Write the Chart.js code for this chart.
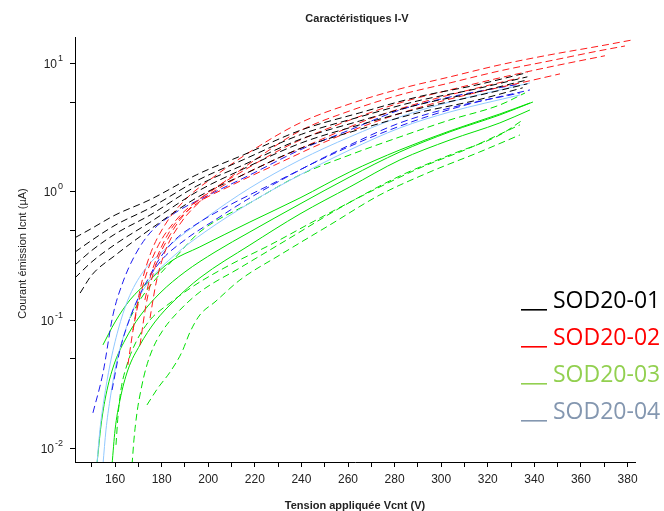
<!DOCTYPE html>
<html><head><meta charset="utf-8">
<script src="https://cdn.jsdelivr.net/npm/chart.js@4/dist/chart.umd.min.js"></script>
<style>html,body{margin:0;padding:0;background:#fff}#wrap{width:664px;height:511px;position:relative}</style>
</head><body><div id="wrap"><canvas id="c" width="664" height="511"></canvas></div>
<script>
// ---------- texts ----------
const chartTitle = 'Caractéristiques I-V';
const xAxisTitle = 'Tension appliquée Vcnt (V)';
const yAxisTitle = 'Courant émission Icnt (µA)';
const xTickValues = [150,160,170,180,190,200,210,220,230,240,250,260,270,280,290,300,310,320,330,340,350,360,370,380];
const yTickValues = [0.01,0.05,0.1,0.5,1,5,10];
const yDecadeExponents = [-2,-1,0,1];
const legendLabels = ['SOD20-01','SOD20-02','SOD20-03','SOD20-04'];
const legendColors = ['#000000','#ff0000','#92d050','#8497b0'];

// ---------- SOD20-01 (black, dashed) ----------
const vBlack = [142.8,150,160,175,195,215,240,265,290,315,337];
const iBlack1 = [0.44,0.52,0.66,0.87,1.36,1.94,3.04,4.13,5.5,6.8,8.5];
const iBlack2 = [0.34,0.42,0.55,0.75,1.22,1.78,2.81,3.84,5.12,6.35,7.88];
const iBlack3 = [0.27,0.35,0.47,0.66,1.11,1.62,2.59,3.57,4.77,5.97,7.46];
const iBlack4 = [0.214,0.285,0.39,0.58,1.0,1.51,2.41,3.33,4.44,5.6,6.95];
const vBlack5 = [145,150,160,175,195,215,240,265,290,315,335];
const iBlack5 = [0.163,0.225,0.32,0.51,0.90,1.36,2.2,3.07,4.13,5.17,6.47];

// ---------- SOD20-02 (red, dashed) ----------
const vRed1 = [167.7,170.7,175.0,181.4,190.0,202.9,217.9,239.4,260.8,282.3,303.8,325.2,346.7,368.1,382.3];
const iRed1 = [0.084,0.172,0.323,0.553,0.866,1.33,2.05,3.45,4.85,6.35,7.88,9.77,11.7,13.7,15.3];
const vRed2 = [170.7,173.3,177.1,183.6,192.2,205.0,220.1,239.4,260.8,282.3,303.8,325.2,346.7,368.1,378.9];
const iRed2 = [0.064,0.132,0.256,0.462,0.75,1.13,1.78,2.99,4.28,5.7,7.07,8.77,10.5,12.6,13.7];
const vRed3 = [165.5,168.1,172.0,178.0,187.0,198.6,213.6,234.9,256.5,282.3,303.8,325.2,346.7,370.3];
const iRed3 = [0.0449,0.092,0.188,0.366,0.627,0.948,1.41,2.32,3.39,4.94,6.24,7.74,9.42,11.5];
const vRed4 = [175.0,177.6,181.4,187.9,196.4,209.3,226.5,248.0,269.4,290.9,312.3,333.8];
const iRed4 = [0.104,0.195,0.341,0.563,0.836,1.20,1.71,2.54,3.71,4.94,6.24,7.74];
const vRed5 = [172.8,175.0,178.4,184.4,194.3,209.3,228.6,250.1,271.6,293.0,314.5,336.0,351.0];
const iRed5 = [0.144,0.214,0.323,0.524,0.792,1.11,1.62,2.45,3.51,4.68,5.91,7.2,8.31];

// ---------- SOD20-03 (green, solid and dashed) ----------
const vGreenS1 = [152.2,154.0,156.1,159.5,164.3,170.7,179.3,190.0,202.9,217.9,239.4,260.8,282.3,303.8,325.2,339.4];
const iGreenS1 = [0.0075,0.0153,0.0262,0.0449,0.0702,0.108,0.163,0.238,0.340,0.488,0.806,1.309,2.05,2.94,3.98,5.02];
const vGreenS2 = [158.7,160.0,162.1,165.5,170.7,177.1,185.7,196.4,217.9,239.4,260.8,282.3,303.8,325.2,338.1];
const iGreenS2 = [0.0075,0.0140,0.0239,0.0410,0.0643,0.097,0.144,0.214,0.386,0.674,1.094,1.775,2.54,3.45,4.35];
const vGreenS3 = [154.8,160.0,166.4,175.0,183.6,196.4,217.9,239.4,260.8,282.3,303.8,325.2,338.1];
const iGreenS3 = [0.0643,0.097,0.144,0.206,0.285,0.373,0.583,0.898,1.432,2.125,2.99,4.05,4.93];
const vGreenD1 = [166.4,170.7,177.1,185.7,196.4,217.9,239.4,260.8,282.3,303.8,325.2,336.0];
const iGreenD1 = [0.104,0.144,0.206,0.306,0.488,0.821,1.357,1.942,2.683,3.64,4.76,5.90];
const vGreenD2 = [160.4,161.3,162.5,165.1,169.0,175.0,183.6,194.3,209.3,226.5,248.0,269.4,290.9,312.3,333.8];
const iGreenD2 = [0.0107,0.0183,0.0286,0.0449,0.0678,0.1005,0.1365,0.188,0.270,0.386,0.627,1.0,1.538,2.203,3.33];
const vGreenD3 = [173.7,178.4,183.6,188.7,192.2,196.4,202.9,213.6,230.8,252.2,273.7,295.2,316.6,333.8];
const iGreenD3 = [0.0219,0.0297,0.0395,0.0566,0.0811,0.110,0.139,0.206,0.323,0.553,0.948,1.432,2.05,2.78];
const vGreenD4 = [167.3,168.1,169.4,171.1,173.3,176.3,180.6,187.0,196.4,213.6,235.1,256.5,282.3,303.8,325.2,335.1];
const iGreenD4 = [0.0075,0.0117,0.0190,0.0286,0.0425,0.0608,0.084,0.116,0.166,0.256,0.438,0.750,1.333,1.942,2.78,3.64];

// ---------- SOD20-04 (blue dashed, light blue solid) ----------
const vBlue1 = [150.5,154.8,159.1,163.4,168.6,175.0,185.7,198.6,217.9,239.4,260.8,282.3,303.8,333.8];
const iBlue1 = [0.019,0.0388,0.110,0.199,0.323,0.479,0.686,0.914,1.357,2.125,3.04,4.35,5.49,6.93];
const vBlue2 = [158.7,162.1,166.4,171.6,179.3,190.0,202.9,217.9,239.4,260.8,282.3,303.8,333.8];
const iBlue2 = [0.0286,0.0587,0.104,0.172,0.285,0.423,0.605,0.898,1.484,2.324,3.45,4.51,5.90];
const vBlue3 = [175.0,179.3,185.7,196.4,209.3,226.5,248.0,269.4,290.9,312.3,338.1];
const iBlue3 = [0.2255,0.306,0.423,0.583,0.792,1.134,1.775,2.64,3.70,4.85,6.23];
const vLightBlue1 = [152.2,153.5,155.2,157.8,161.3,165.5,172.0,183.6,197.7,217.9,239.4,260.8,282.3,303.8,338.1];
const iLightBlue1 = [0.0075,0.0140,0.0239,0.0449,0.084,0.144,0.238,0.386,0.605,1.074,1.775,2.683,3.84,5.02,7.06];
const vLightBlue2 = [154.8,156.1,157.8,160.4,163.8,168.6,175.0,185.7,198.6,217.9,239.4,260.8,282.3,303.8,333.8];
const iLightBlue2 = [0.0075,0.0140,0.0239,0.0449,0.0768,0.1316,0.206,0.323,0.488,0.821,1.357,2.125,3.153,4.198,5.694];

// ---------- styles ----------
const cBlack = '#000000', cRed = '#ff1a1a', cGreen = '#00e000', cBlue = '#1a1af0', cLightBlue = '#90c8ff';
const dash = [7,4];

function curve(vs, is, color, dashed) {
  return {
    data: vs.map((v, k) => ({x: v, y: is[k]})),
    borderColor: color, backgroundColor: color,
    borderWidth: 1, borderDash: dashed ? dash : [],
    pointRadius: 0, pointHoverRadius: 0,
    showLine: true, fill: false,
    cubicInterpolationMode: 'monotone'
  };
}

const datasets = [
  curve(vBlack, iBlack1, cBlack, true),
  curve(vBlack, iBlack2, cBlack, true),
  curve(vBlack, iBlack3, cBlack, true),
  curve(vBlack, iBlack4, cBlack, true),
  curve(vBlack5, iBlack5, cBlack, true),
  curve(vRed1, iRed1, cRed, true),
  curve(vRed2, iRed2, cRed, true),
  curve(vRed3, iRed3, cRed, true),
  curve(vRed4, iRed4, cRed, true),
  curve(vRed5, iRed5, cRed, true),
  curve(vBlue1, iBlue1, cBlue, true),
  curve(vBlue2, iBlue2, cBlue, true),
  curve(vBlue3, iBlue3, cBlue, true),
  curve(vLightBlue1, iLightBlue1, cLightBlue, false),
  curve(vLightBlue2, iLightBlue2, cLightBlue, false),
  curve(vGreenS1, iGreenS1, cGreen, false),
  curve(vGreenS2, iGreenS2, cGreen, false),
  curve(vGreenS3, iGreenS3, cGreen, false),
  curve(vGreenD1, iGreenD1, cGreen, true),
  curve(vGreenD2, iGreenD2, cGreen, true),
  curve(vGreenD3, iGreenD3, cGreen, true),
  curve(vGreenD4, iGreenD4, cGreen, true)
];

const FONT = '"Liberation Sans", Arial, sans-serif';

const textPlugin = {
  id: 'texts',
  afterDraw(chart) {
    const ctx = chart.ctx, ca = chart.chartArea, ys = chart.scales.y;
    ctx.save();
    ctx.fillStyle = '#222';
    ctx.textAlign = 'center';
    ctx.textBaseline = 'alphabetic';
    ctx.font = 'bold 11px ' + FONT;
    ctx.fillText(chartTitle, 357, 22);
    ctx.fillText(xAxisTitle, (ca.left + ca.right) / 2, 509);
    ctx.save();
    ctx.translate(23, (ca.top + ca.bottom) / 2 + 4);
    ctx.rotate(-Math.PI / 2);
    ctx.font = '11px ' + FONT;
    ctx.textBaseline = 'middle';
    ctx.fillText(yAxisTitle, 0, 0);
    ctx.restore();
    // y decade labels with superscript exponent
    ctx.textAlign = 'right';
    ctx.textBaseline = 'middle';
    yDecadeExponents.forEach(e => {
      const py = ys.getPixelForValue(Math.pow(10, e));
      const exp = (e < 0 ? '-' : '') + Math.abs(e);
      ctx.font = '9px ' + FONT;
      const ew = ctx.measureText(exp).width;
      ctx.fillText(exp, 63, py - 5);
      ctx.font = '12px ' + FONT;
      ctx.fillText('10', 63 - ew - 1, py + 1);
    });
    // legend
    ctx.textAlign = 'left';
    ctx.textBaseline = 'alphabetic';
    ctx.font = '23px "Open Sans", sans-serif';
    legendLabels.forEach((lab, k) => {
      const by = 308 + k * 37;
      ctx.fillStyle = legendColors[k];
      ctx.fillRect(521, by + 1, 26, 1.6);
      ctx.fillText(lab, 553, by);
    });
    ctx.restore();
  }
};

new Chart(document.getElementById('c'), {
  type: 'scatter',
  data: { datasets },
  options: {
    responsive: false,
    devicePixelRatio: 1,
    animation: false,
    events: [],
    layout: { padding: { top: 37, right: 29, left: 0, bottom: 0 } },
    plugins: { legend: { display: false }, title: { display: false }, tooltip: { enabled: false } },
    scales: {
      x: {
        type: 'linear', min: 142.8, max: 383.2,
        afterBuildTicks: s => { s.ticks = xTickValues.map(v => ({ value: v })); },
        afterFit: s => { s.height = 49; },
        ticks: {
          autoSkip: false, maxRotation: 0, padding: 5, color: '#222',
          font: { family: FONT, size: 12 },
          callback: v => (v % 20 === 0 ? String(v) : '')
        },
        grid: { drawOnChartArea: false, drawTicks: true, tickLength: 5, color: '#000' },
        border: { display: true, color: '#000', width: 1 }
      },
      y: {
        type: 'logarithmic', min: 0.00787, max: 16.1,
        afterBuildTicks: s => { s.ticks = yTickValues.map(v => ({ value: v })); },
        afterFit: s => { s.width = 75; },
        ticks: { display: false },
        grid: { drawOnChartArea: false, drawTicks: true, tickLength: 5, color: '#000' },
        border: { display: true, color: '#000', width: 1 }
      }
    }
  },
  plugins: [textPlugin]
});
</script></body></html>
